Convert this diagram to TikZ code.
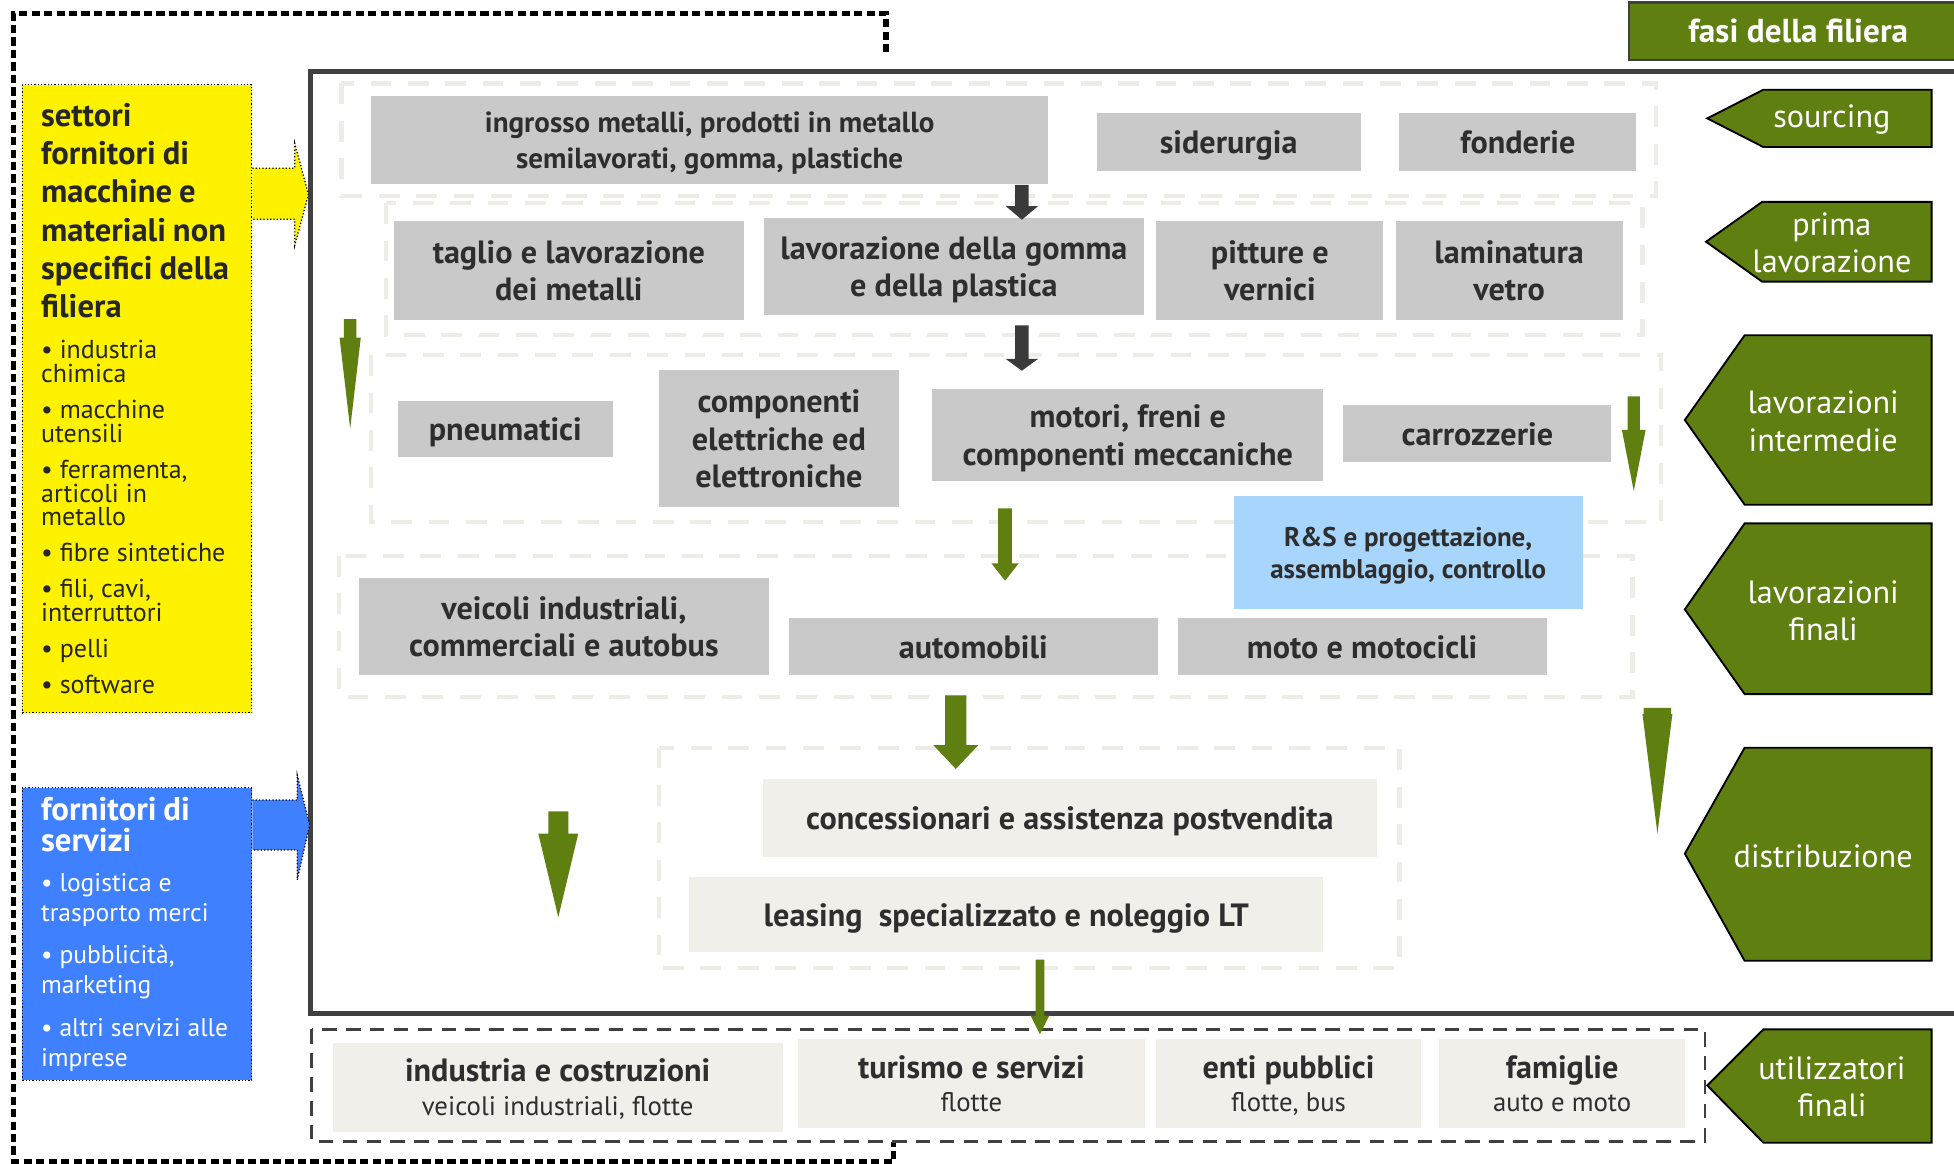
\documentclass[tikz,border=0pt]{standalone}
\usepackage{fontspec}
\setmainfont{PT Sans}
\usetikzlibrary{arrows.meta}

\definecolor{filiera-green}{HTML}{5F7F10}
\definecolor{box-gray}{HTML}{C9C9C9}
\definecolor{box-light}{HTML}{F0EFEA}
\definecolor{box-text}{HTML}{2E2E2E}
\definecolor{panel-line}{HTML}{EDECE6}
\definecolor{frame-gray}{HTML}{404040}
\definecolor{rs-blue}{HTML}{A8D5FB}
\definecolor{servizi-blue}{HTML}{3F80FF}
\definecolor{arrow-dark}{HTML}{3A3A3A}

\tikzset{
    box-size/.style 2 args = {minimum width=#1*0.6pt, minimum height=#2*0.6pt},
    gray-box/.style = {fill=box-gray, text=box-text, inner sep=0pt, align=center, text depth=0pt, font=\bfseries\fontsize{15.5}{18}\selectfont},
    light-box/.style = {gray-box, fill=box-light},
    user-box/.style = {light-box, font=\fontsize{12.9}{16.2}\selectfont},
    phase-panel/.style = {draw=panel-line, line width=2pt, dash pattern=on 10pt off 8pt},
    phase-tag/.style = {fill=filiera-green, draw=black, line width=0.9pt},
    phase-text/.style = {text=white, align=center, inner sep=0pt, font=\fontsize{15.5}{18}\selectfont},
    side-box/.style = {draw=black, densely dotted, line width=0.6pt, inner sep=0pt, box-size={184}{#1}, text width=101pt, align=left},
    side-arrow/.style = {draw=black, densely dotted, line width=0.6pt},
    dark-arrow/.style = {fill=arrow-dark},
    green-arrow/.style = {fill=filiera-green},
}

\begin{document}
\begin{tikzpicture}[x=0.6pt, y=-0.6pt]
\path[use as bounding box, fill=white] (0,0) rectangle (1568,934);

% outer dotted frame and main frame
\draw[line width=2.5pt, dash pattern=on 4pt off 2pt] (711,42) -- (711,11) -- (11,11) -- (11,932) -- (717,932) -- (717,916);
\draw[frame-gray, line width=2.4pt] (1580,57) -- (249,57) -- (249,813) -- (1580,813);

\node[fill=filiera-green, draw=frame-gray, line width=1.2pt, box-size={272}{46}, text=white, font=\bfseries\fontsize{16}{18}\selectfont] (fasi) at (1443,25) {fasi della filiera};

% phases
\draw[phase-panel] (274,67) rectangle (1329,157);
\draw[phase-panel] (310,163) rectangle (1318,269);
\draw[phase-panel] (298,285) rectangle (1333,419);
\draw[phase-panel] (272,446) rectangle (1310,559);
\draw[phase-panel] (529,600) rectangle (1123,777);
\draw[frame-gray, line width=1.2pt, dash pattern=on 7pt off 4.5pt] (250,826) rectangle (1368,916);

\node[gray-box, box-size={543}{71}, font=\bfseries\fontsize{14}{17}\selectfont] (ingrosso) at (569.5,112.5) {ingrosso metalli, prodotti in metallo\\semilavorati, gomma, plastiche};
\node[gray-box, box-size={212}{46}] (siderurgia) at (986,114) {siderurgia};
\node[gray-box, box-size={190}{46}] (fonderie) at (1218,114) {fonderie};

\node[gray-box, box-size={281}{80}] (taglio) at (456.5,217) {taglio e lavorazione\\dei metalli};
\node[gray-box, box-size={305}{78}] (gomma) at (765.5,214) {lavorazione della gomma\\e della plastica};
\node[gray-box, box-size={182}{80}] (pitture) at (1019,217) {pitture e\\vernici};
\node[gray-box, box-size={182}{80}] (laminatura) at (1211,217) {laminatura\\vetro};

\node[gray-box, box-size={173}{45}] (pneumatici) at (405.5,344.5) {pneumatici};
\node[gray-box, box-size={192}{110}] (componenti) at (625,352) {componenti\\elettriche ed\\elettroniche};
\node[gray-box, box-size={314}{74}] (motori) at (905,349) {motori, freni e\\componenti meccaniche};
\node[gray-box, box-size={215}{46}] (carrozzerie) at (1185.5,348) {carrozzerie};

\node[gray-box, fill=rs-blue, box-size={280}{91}, font=\bfseries\fontsize{13}{15.6}\selectfont] (ricerca) at (1130,443.5) {R\&S e progettazione,\\assemblaggio, controllo};

\node[gray-box, box-size={329}{78}] (veicoli) at (452.5,503) {veicoli industriali,\\commerciali e autobus};
\node[gray-box, box-size={296}{46}] (automobili) at (781,519) {automobili};
\node[gray-box, box-size={296}{46}] (moto) at (1093,519) {moto e motocicli};

\node[light-box, box-size={493}{63}] (concessionari) at (858.5,656.5) {concessionari e assistenza postvendita};
\node[light-box, box-size={509}{60}] (leasing) at (807.5,734) {leasing\ \ specializzato e noleggio LT};

\node[user-box, box-size={361}{71}] (industria) at (447.5,872.5) {{\bfseries\fontsize{15.5}{16.2}\selectfont industria e costruzioni}\\veicoli industriali, flotte};
\node[user-box, box-size={279}{71}] (turismo) at (779.5,869.5) {{\bfseries\fontsize{15.5}{16.2}\selectfont turismo e servizi}\\flotte};
\node[user-box, box-size={212}{71}] (enti) at (1034,869.5) {{\bfseries\fontsize{15.5}{16.2}\selectfont enti pubblici}\\flotte, bus};
\node[user-box, box-size={197}{71}] (famiglie) at (1253.5,869.5) {{\bfseries\fontsize{15.5}{16.2}\selectfont famiglie}\\auto e moto};

% suppliers
\node[side-box={504}, fill=yellow, text=black!85] (settori) at (110,320) {\leftskip=4.3pt
{\bfseries\fontsize{15.7}{18.4}\selectfont settori\\fornitori di\\macchine e\\materiali non\\specifici della\\filiera\par}
\vspace{2.4pt}
{\fontsize{12.5}{11.4}\selectfont\setlength{\parskip}{6pt}
• industria\\chimica\par
• macchine\\utensili\par
• ferramenta,\\articoli in\\metallo\par
• fibre sintetiche\par
• fili, cavi,\\interruttori\par
• pelli\par
• software\par}};
\node[side-box={235}, fill=servizi-blue, text=white] (servizi) at (110,749.5) {\leftskip=4.3pt
{\bfseries\fontsize{15.8}{15}\selectfont fornitori di\\servizi\par}
\vspace{-1pt}
{\fontsize{12.3}{14.4}\selectfont\setlength{\parskip}{6pt}
• logistica e\\trasporto merci\par
• pubblicità,\\marketing\par
• altri servizi alle\\imprese\par}};

\coordinate (settori-out) at (settori.east |- 0,156);
\coordinate (servizi-out) at (servizi.east |- 0,662);
\draw[side-arrow, fill=yellow, shift={(settori-out)}] (0,-21) -- (34,-21) -- (34,-41) -- (45,0) -- (34,41) -- (34,20) -- (0,20);
\draw[side-arrow, fill=servizi-blue, shift={(servizi-out)}] (0,-20) -- (36,-20) -- (36,-40) -- (46,0) -- (36,44) -- (36,20) -- (0,20);

% flow arrows
\coordinate (cut-1) at (ingrosso.south -| 820,0);
\coordinate (cut-2) at (820,261);
\fill[dark-arrow, shift={(cut-1)}] (-5.5,0) -- (5.5,0) -- (5.5,17) -- (13,17) -- (0,28) -- (-13,17) -- (-5.5,17) -- cycle;
\fill[dark-arrow, shift={(cut-2)}] (-5.5,0) -- (5.5,0) -- (5.5,27) -- (13,27) -- (0,36.5) -- (-13,27) -- (-5.5,27) -- cycle;

\coordinate (down-a) at (281,256);
\coordinate (down-b) at (806.5,408);
\coordinate (down-c) at (1311,318);
\coordinate (down-d) at (767,558);
\coordinate (down-e) at (448,651);
\coordinate (down-f) at (1330,568);
\coordinate (down-g) at (834.5,770);
\fill[green-arrow, shift={(down-a)}] (-5,0) -- (5,0) -- (5,15) -- (8.5,15) -- (0,88) -- (-8.5,15) -- (-5,15) -- cycle;
\fill[green-arrow, shift={(down-b)}] (-5.5,0) -- (5.5,0) -- (5.5,44) -- (11,44) -- (0,58) -- (-11,44) -- (-5.5,44) -- cycle;
\fill[green-arrow, shift={(down-c)}] (-5,0) -- (5,0) -- (5,27) -- (9.5,27) -- (0,76) -- (-9.5,27) -- (-5,27) -- cycle;
\fill[green-arrow, shift={(down-d)}] (-8.5,0) -- (8.5,0) -- (8.5,40) -- (18,40) -- (0,59) -- (-18,40) -- (-8.5,40) -- cycle;
\fill[green-arrow, shift={(down-e)}] (-8,0) -- (8,0) -- (8,18) -- (16,18) -- (0,85) -- (-16,18) -- (-8,18) -- cycle;
\fill[green-arrow, shift={(down-f)}] (-11,0) -- (11,0) -- (11,5) -- (12,5) -- (0,101) -- (-12,5) -- (-11,5) -- cycle;
\fill[green-arrow, shift={(down-g)}] (-3.5,0) -- (3.5,0) -- (3.5,45) -- (7.5,45) -- (0,60) -- (-7.5,45) -- (-3.5,45) -- cycle;

% phase tags
\draw[phase-tag] (1370,95) -- (1415,72) -- (1550,72) -- (1550,118) -- (1415,118) -- cycle;
\draw[phase-tag] (1369,194) -- (1414,162) -- (1550,162) -- (1550,226) -- (1414,226) -- cycle;
\draw[phase-tag] (1352,337) -- (1400,269) -- (1550,269) -- (1550,405) -- (1400,405) -- cycle;
\draw[phase-tag] (1352,489) -- (1400,420) -- (1550,420) -- (1550,557) -- (1400,557) -- cycle;
\draw[phase-tag] (1352,685) -- (1400,600) -- (1550,600) -- (1550,771) -- (1400,771) -- cycle;
\draw[phase-tag] (1370,871) -- (1415,826) -- (1550,826) -- (1550,917) -- (1415,917) -- cycle;
\node[phase-text] (sourcing) at (1470,96) {sourcing};
\node[phase-text] (prima) at (1470,195) {prima\\lavorazione};
\node[phase-text] (intermedie) at (1463,338) {lavorazioni\\intermedie};
\node[phase-text] (finali) at (1463,490) {lavorazioni\\finali};
\node[phase-text] (distribuzione) at (1463,687) {distribuzione};
\node[phase-text] (utilizzatori) at (1470,872) {utilizzatori\\finali};
\end{tikzpicture}
\end{document}
